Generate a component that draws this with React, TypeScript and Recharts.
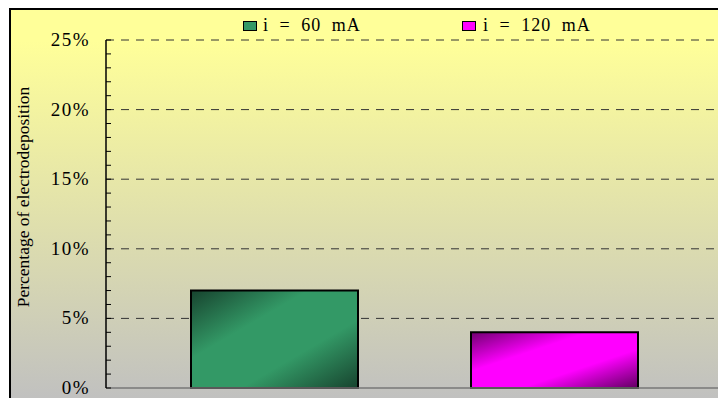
import React from 'react'
import {
  BarChart,
  Bar,
  XAxis,
  YAxis,
  CartesianGrid,
  Legend,
  Customized,
} from 'recharts'

// electrodeposition percentage per current intensity
const CATEGORIES = ['Electrodeposition']
const SERIES_NAMES = ['i = 60 mA', 'i = 120 mA']
const VALUES_60MA = [7]
const VALUES_120MA = [4]

// minor ticks every 1 %, labels and dashed grid every 5 %
const Y_TICKS = [0, 1, 2, 3, 4, 5, 6, 7, 8, 9, 10, 11, 12, 13, 14, 15, 16, 17, 18, 19, 20, 21, 22, 23, 24, 25]
const MAJOR_TICKS = [0, 5, 10, 15, 20, 25]
const GRID_VALUES = [5, 10, 15, 20, 25]

const Y_LABEL = 'Percentage of electrodeposition'

const SERIF = '"Liberation Serif", "Times New Roman", serif'

const data = CATEGORIES.map((name, i) => ({
  name,
  i60: VALUES_60MA[i],
  i120: VALUES_120MA[i],
}))

const SERIES = [
  { key: 'i60', name: SERIES_NAMES[0], color: '#339966', gradient: 'gradGreen' },
  { key: 'i120', name: SERIES_NAMES[1], color: '#FF00FF', gradient: 'gradMagenta' },
]

function YTick(props: any) {
  const { x, y, payload } = props
  const v = payload.value as number
  const major = MAJOR_TICKS.includes(v)
  return (
    <g>
      <line x1={x} y1={y} x2={x + 5} y2={y} stroke="#000" strokeWidth={1} />
      {major && (
        <text
          x={x - 16}
          y={y + 6}
          textAnchor="end"
          fontFamily={SERIF}
          fontSize={19}
          letterSpacing={1.5}
          fill="#000"
        >
          {`${v}%`}
        </text>
      )}
    </g>
  )
}

function LegendContent() {
  const items = [
    { ...SERIES[0], sq: 232, tx: 252 },
    { ...SERIES[1], sq: 451, tx: 472 },
  ]
  return (
    <div style={{ position: 'relative', width: 720, height: 30 }}>
      {items.map((it) => (
        <React.Fragment key={it.key}>
          <div
            style={{
              position: 'absolute',
              left: it.sq,
              top: 11,
              width: 12,
              height: 8,
              background: it.color,
              border: '1px solid #000',
            }}
          />
          <div
            style={{
              position: 'absolute',
              left: it.tx,
              top: 6,
              fontFamily: SERIF,
              fontSize: 18,
              lineHeight: '18px',
              letterSpacing: 1,
              wordSpacing: 5,
              whiteSpace: 'nowrap',
              color: '#000',
            }}
          >
            {it.name}
          </div>
        </React.Fragment>
      ))}
    </div>
  )
}

export default function App() {
  return (
    <div
      style={{
        position: 'fixed',
        left: 0,
        top: 0,
        width: 718,
        height: 398,
        overflow: 'hidden',
        background: '#fff',
      }}
    >
      <div
        style={{
          position: 'absolute',
          left: 9,
          top: 8,
          width: 720,
          height: 392,
          borderTop: '2px solid #000',
          borderLeft: '2px solid #000',
          background: 'linear-gradient(to bottom, #FFFF99 0%, #FFFF99 8%, #C0C0C0 100%)',
        }}
      >
        <BarChart
          width={720}
          height={390}
          data={data}
          margin={{ top: 30, right: 9, bottom: 11, left: 35 }}
          barSize={167}
          barGap={113}
        >
          <defs>
            <linearGradient id="gradGreen" x1="0" y1="0" x2="1" y2="1">
              <stop offset="0%" stopColor="#17432e" />
              <stop offset="35%" stopColor="#339966" />
              <stop offset="65%" stopColor="#339966" />
              <stop offset="100%" stopColor="#17432e" />
            </linearGradient>
            <linearGradient id="gradMagenta" x1="0" y1="0" x2="1" y2="1">
              <stop offset="0%" stopColor="#700070" />
              <stop offset="35%" stopColor="#FF00FF" />
              <stop offset="65%" stopColor="#FF00FF" />
              <stop offset="100%" stopColor="#600060" />
            </linearGradient>
          </defs>
          <CartesianGrid
            vertical={false}
            horizontalValues={GRID_VALUES}
            stroke="#333"
            strokeDasharray="8 7"
          />
          <XAxis
            dataKey="name"
            tick={false}
            tickLine={false}
            height={1}
            axisLine={{ stroke: '#777', strokeWidth: 1.5 }}
          />
          <YAxis
            width={60}
            domain={[0, 25]}
            ticks={Y_TICKS}
            interval={0}
            tickSize={0}
            tickMargin={0}
            tickLine={false}
            tick={<YTick />}
            axisLine={{ stroke: '#000', strokeWidth: 1.5 }}
          />
          <Legend
            layout="horizontal"
            verticalAlign="middle"
            wrapperStyle={{ top: 0, left: 0, width: 720 }}
            content={<LegendContent />}
          />
          {SERIES.map((s) => (
            <Bar
              key={s.key}
              dataKey={s.key}
              name={s.name}
              fill={`url(#${s.gradient})`}
              stroke="#000"
              strokeWidth={2}
              isAnimationActive={false}
            />
          ))}
          <Customized
            component={() => (
              <text
                x={18}
                y={187}
                transform="rotate(-90 18 187)"
                textAnchor="middle"
                fontFamily={SERIF}
                fontSize={17.5}
                fill="#000"
              >
                {Y_LABEL}
              </text>
            )}
          />
        </BarChart>
      </div>
    </div>
  )
}
